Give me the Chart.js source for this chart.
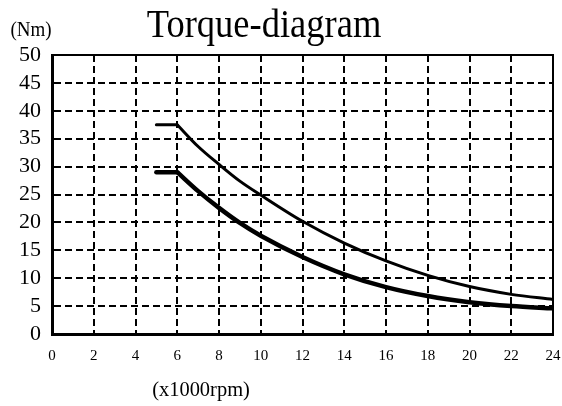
<!DOCTYPE html>
<html><head><meta charset="utf-8">
<script src="https://cdn.jsdelivr.net/npm/chart.js@4/dist/chart.umd.min.js"></script>
<style>html,body{margin:0;padding:0;background:#fff;}canvas{display:block;}</style>
</head><body>
<canvas id="c" width="562" height="406"></canvas>
<script>
const speedFlat = [5, 6];
const speedCurve = [6, 7, 8, 9, 10, 12, 14, 16, 18, 20, 22, 24];
const upperFlat = [37.5, 37.5];
const upperCurve = [37.5, 33.6, 30.4, 27.4, 24.9, 20.2, 16.3, 13.1, 10.5, 8.5, 7.1, 6.2];
const lowerFlat = [29, 29];
const lowerCurve = [29, 25.6, 22.6, 19.9, 17.6, 13.8, 10.7, 8.4, 6.8, 5.7, 5.0, 4.6];
const xTicks = [0, 2, 4, 6, 8, 10, 12, 14, 16, 18, 20, 22, 24];
const yTicks = [0, 5, 10, 15, 20, 25, 30, 35, 40, 45, 50];
const titleText = 'Torque-diagram';
const yLabel = '(Nm)';
const xLabel = '(x1000rpm)';

const pts = (xs, ys) => xs.map((x, i) => ({x: x, y: ys[i]}));
const serif = '"Liberation Serif", "DejaVu Serif", serif';

function narrowText(ctx, text, x, y, size, sx) {
  ctx.save();
  ctx.font = size + 'px ' + serif;
  ctx.textAlign = 'center';
  ctx.textBaseline = 'alphabetic';
  ctx.translate(x, y);
  ctx.scale(sx, 1);
  ctx.fillText(text, 0, 0);
  ctx.restore();
}

const textPlugin = {
  id: 'texts',
  afterDraw(chart) {
    const ctx = chart.ctx, a = chart.chartArea;
    ctx.save();
    ctx.strokeStyle = '#000';
    ctx.lineWidth = 2;
    ctx.beginPath();
    ctx.moveTo(a.left, a.top); ctx.lineTo(a.right, a.top); ctx.lineTo(a.right, a.bottom);
    ctx.stroke();
    ctx.fillStyle = '#000';
    narrowText(ctx, titleText, 264, 37, 41, 0.89);
    narrowText(ctx, yLabel, 31, 36, 20, 0.95);
    narrowText(ctx, xLabel, 201, 396, 22, 0.93);
    ctx.restore();
  }
};

new Chart(document.getElementById('c'), {
  type: 'line',
  data: {
    datasets: [
      {data: pts(speedFlat, upperFlat), borderColor: '#000', borderWidth: 3, pointRadius: 0, borderCapStyle: 'round'},
      {data: pts(speedCurve, upperCurve), borderColor: '#000', borderWidth: 3, pointRadius: 0, cubicInterpolationMode: 'monotone'},
      {data: pts(speedFlat, lowerFlat), borderColor: '#000', borderWidth: 4.5, pointRadius: 0, borderCapStyle: 'round'},
      {data: pts(speedCurve, lowerCurve), borderColor: '#000', borderWidth: 4.5, pointRadius: 0, cubicInterpolationMode: 'monotone'}
    ]
  },
  options: {
    responsive: false,
    animation: false,
    devicePixelRatio: 1,
    layout: {padding: {left: 0, right: 9, top: 55, bottom: 0}},
    plugins: {legend: {display: false}, tooltip: {enabled: false}, title: {display: false}},
    scales: {
      x: {
        type: 'linear', min: 0, max: 24,
        afterBuildTicks: s => { s.ticks = xTicks.map(v => ({value: v})); },
        afterFit: s => { s.height = 72; s.paddingLeft = 0; s.paddingRight = 0; },
        grid: {color: '#000', lineWidth: 2, drawTicks: false},
        border: {color: '#000', width: 3, dash: [7, 4]},
        ticks: {color: '#000', font: {family: serif, size: 15}, padding: 13, maxRotation: 0, autoSkip: false}
      },
      y: {
        min: 0, max: 50,
        afterBuildTicks: s => { s.ticks = yTicks.map(v => ({value: v})); },
        afterFit: s => { s.width = 52; s.paddingTop = 0; s.paddingBottom = 0; },
        grid: {color: '#000', lineWidth: 2, drawTicks: false},
        border: {color: '#000', width: 3, dash: [7, 4]},
        ticks: {color: '#000', font: {family: serif, size: 22}, padding: 11, autoSkip: false}
      }
    }
  },
  plugins: [textPlugin]
});
</script>
</body></html>
